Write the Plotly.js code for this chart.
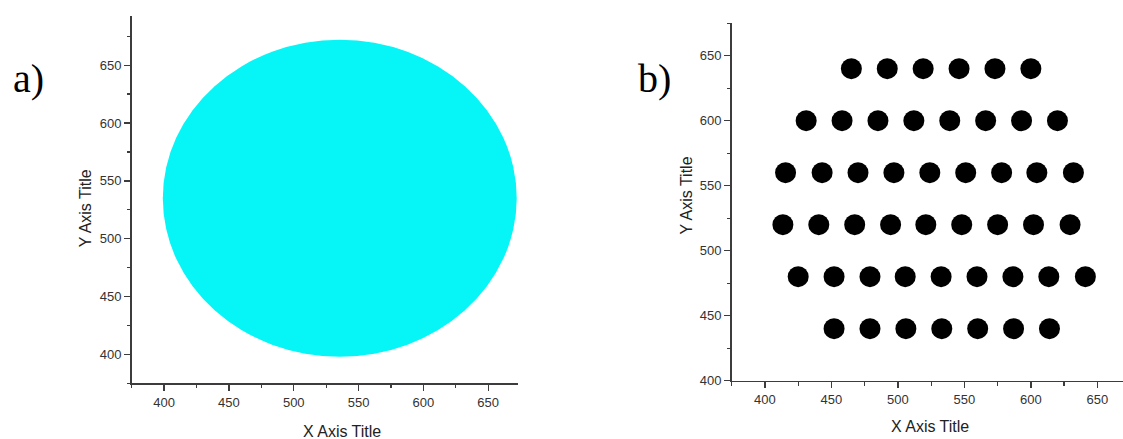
<!DOCTYPE html>
<html>
<head>
<meta charset="utf-8">
<script src="https://cdn.plot.ly/plotly-3.0.1.min.js"></script>
<style>html,body{margin:0;padding:0;background:#fff;}#chart{width:1123px;height:439px;}</style>
</head>
<body>
<div id="chart"></div>
<script>
// ---- Data ----
// Panel a: filled cyan disc, bounding box in data units
var circleBoundsX = [399, 672];
var circleBoundsY = [398, 672];

// Panel b: rows of dots (y value of each row, x values within each row)
var rowY = [640, 600, 560, 520, 480, 440];
var row1X = [465, 492, 519, 546, 573, 600];
var row2X = [431, 458, 485, 512, 539, 566, 593, 620];
var row3X = [415.5, 443, 470, 497, 524, 551, 578, 604.5, 632];
var row4X = [413.5, 440.5, 467.5, 494.5, 521, 548, 575, 602, 629.5];
var row5X = [425, 452, 479, 505.5, 532.5, 559.5, 586.5, 613.5, 641];
var row6X = [452, 479, 506, 533, 560, 587, 614];

var panelLabels = ['a)', 'b)'];
var xTitle = 'X Axis Title';
var yTitle = 'Y Axis Title';

// ---- Build ----
var W = 1123, H = 439;
var rows = [row1X, row2X, row3X, row4X, row5X, row6X];
var dotX = [], dotY = [];
rows.forEach(function (r, i) {
  r.forEach(function (v) { dotX.push(v); dotY.push(rowY[i]); });
});

var axisColor = '#3c3c3c';
var tickFont = {family: 'Liberation Sans, Arial, sans-serif', size: 13, color: '#333'};
function axis(extra) {
  var base = {
    showgrid: false, zeroline: false,
    showline: true, linecolor: axisColor, linewidth: 1.6,
    ticks: 'outside', ticklen: 6, tickwidth: 1.3, tickcolor: axisColor,
    tick0: 400, dtick: 50,
    tickfont: tickFont,
    minor: {ticks: 'outside', ticklen: 3.5, tickwidth: 1.2, tickcolor: axisColor, tick0: 375, dtick: 25, showgrid: false},
    fixedrange: true
  };
  for (var k in extra) base[k] = extra[k];
  return base;
}
function px(x) { return x / W; }
function py(y) { return 1 - y / H; }

var traces = [
  {
    type: 'scatter', mode: 'markers', x: dotX, y: dotY,
    xaxis: 'x2', yaxis: 'y2',
    marker: {color: '#000', size: 21, symbol: 'circle', line: {width: 0}},
    hoverinfo: 'x+y', showlegend: false
  },
  { // invisible helper so panel a axes are drawn
    type: 'scatter', mode: 'markers', x: [], y: [], xaxis: 'x', yaxis: 'y', showlegend: false
  }
];

var titleFont = {family: 'Liberation Sans, Arial, sans-serif', size: 16, color: '#222'};
var labelFont = {family: 'Liberation Serif, Times New Roman, serif', size: 40, color: '#000'};

var layout = {
  width: W, height: H,
  margin: {l: 0, r: 0, t: 0, b: 0, pad: 0},
  paper_bgcolor: '#fff', plot_bgcolor: '#fff',
  showlegend: false,
  xaxis: axis({domain: [px(131.7), px(518)], range: [375, 673], anchor: 'y'}),
  yaxis: axis({domain: [py(383.3), py(16)], range: [375, 692.5], anchor: 'x'}),
  xaxis2: axis({domain: [px(731.7), 1], range: [375, 669.3], anchor: 'y2'}),
  yaxis2: axis({domain: [py(380.7), py(22.8)], range: [400, 675.3], anchor: 'x2'}),
  shapes: [{
    type: 'circle', xref: 'x', yref: 'y',
    x0: circleBoundsX[0], x1: circleBoundsX[1],
    y0: circleBoundsY[0], y1: circleBoundsY[1],
    fillcolor: '#06f5f7', line: {width: 0}, layer: 'below'
  }],
  annotations: [
    {text: panelLabels[0], xref: 'paper', yref: 'paper', x: px(11), y: py(78), xanchor: 'left', yanchor: 'middle', showarrow: false, font: labelFont},
    {text: panelLabels[1], xref: 'paper', yref: 'paper', x: px(636), y: py(78), xanchor: 'left', yanchor: 'middle', showarrow: false, font: labelFont},
    {text: xTitle, xref: 'paper', yref: 'paper', x: px(341.7), y: py(431.7), xanchor: 'center', yanchor: 'middle', showarrow: false, font: titleFont},
    {text: yTitle, xref: 'paper', yref: 'paper', x: px(85), y: py(208.3), xanchor: 'center', yanchor: 'middle', textangle: -90, showarrow: false, font: titleFont},
    {text: xTitle, xref: 'paper', yref: 'paper', x: px(930), y: py(426.7), xanchor: 'center', yanchor: 'middle', showarrow: false, font: titleFont},
    {text: yTitle, xref: 'paper', yref: 'paper', x: px(686.7), y: py(195.7), xanchor: 'center', yanchor: 'middle', textangle: -90, showarrow: false, font: titleFont}
  ]
};

Plotly.newPlot('chart', traces, layout, {displayModeBar: false, staticPlot: true});
</script>
</body>
</html>
